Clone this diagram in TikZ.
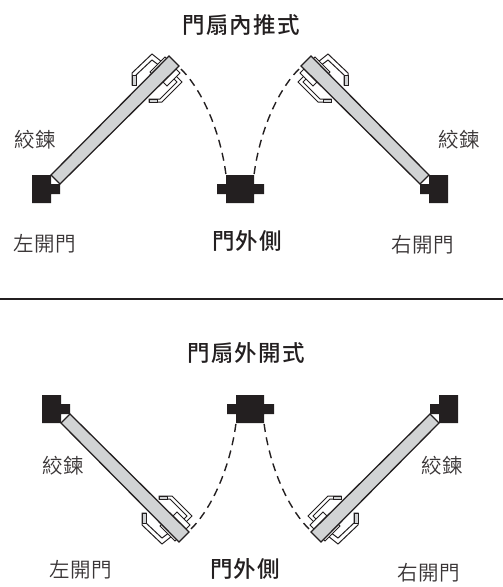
\documentclass[tikz,border=0pt]{standalone}
\usepackage{fontspec}
\setmainfont{Noto Sans CJK TC}
\newfontfamily\medcjk{Noto Sans CJK TC Medium}[LetterSpace=5]
\newfontfamily\lblcjk{Noto Sans CJK TC DemiLight}[LetterSpace=3]
\definecolor{ink}{HTML}{231F20}
\definecolor{slab}{HTML}{D1D3D4}
\tikzset{
  outline/.style={draw=ink,line width=1.3pt,line join=miter},
  jamb/.style={fill=ink,draw=none},
  leaf/.style={outline,fill=slab},
  grip/.style={draw=ink,line width=1pt,fill=white},
  swing/.style={draw=ink,line width=1.4pt,dash pattern=on 8pt off 5.5pt},
  lbl/.style={inner sep=0pt,font=\lblcjk\fontsize{20.5}{21}\selectfont,text=ink!90},
  ttl/.style={inner sep=0pt,font=\medcjk\fontsize{22.5}{23}\selectfont,text=ink},
}
\newcommand{\doorunit}{%
  % upper handle
  \path[grip] (156,67) -- (162,62) -- (152,54) -- (132,73) -- (132,85) -- (136,85) -- (136,75) -- (152,60) -- (160,66);
  \path[grip,fill=slab] (132,75) rectangle (136,85);
  % lower handle
  \path[grip] (170,79) -- (175,75) -- (182,82) -- (162,102) -- (149,102) -- (149,99) -- (160,99) -- (177,82) -- (173,78);
  \path[grip,fill=slab] (149,99) rectangle (157,102);
  % plates
  \path[grip] (150,72) -- (165,57) -- (169,61) -- (154,76) -- cycle;
  \path[grip] (163,82) -- (176,69) -- (180,73) -- (167,86) -- cycle;
  % leaf
  \path[leaf] (51,175) -- (169,56) -- (179,66) -- (60,184) -- cycle;
  % jamb
  \path[jamb] (32,175) -- (51,175) -- (51,184) -- (60,184) -- (60,194) -- (51,194) -- (51,203) -- (32,203) -- cycle;
  % swing
  \coordinate (tip) at (181,69);
  \coordinate (stop) at (226,175);
  \draw[swing] (tip) .. controls (204,92) and (221,135) .. (stop);
}
\newcommand{\midjamb}{%
  \path[jamb] (226,175) -- (254,175) -- (254,184) -- (264,184) -- (264,194) -- (254,194) -- (254,203) -- (226,203) -- (226,194) -- (217,194) -- (217,184) -- (226,184) -- cycle;
}
\begin{document}
\begin{tikzpicture}[x=1pt,y=-1pt]
\useasboundingbox (0,0) rectangle (503,587);
\begin{scope} \doorunit \midjamb \end{scope}
\begin{scope}[shift={(480,0)},xscale=-1] \doorunit \end{scope}
\begin{scope}[shift={(10,598)},yscale=-1] \doorunit \midjamb \end{scope}
\begin{scope}[shift={(490,598)},xscale=-1,yscale=-1] \doorunit \end{scope}
\coordinate (ruleL) at (0,299);
\coordinate (ruleR) at (503,299);
\draw[ink,line width=2pt] (ruleL) -- (ruleR);
\node[ttl] (t1) at (241,25) {門扇內推式};
\node[lbl] (h1) at (35,140) {絞鍊};
\node[lbl] (h2) at (459,140) {絞鍊};
\node[lbl] (l1) at (45,244) {左開門};
\node[ttl] (o1) at (247,241) {門外側};
\node[lbl] (r1) at (423,245) {右開門};
\node[ttl] (t2) at (246,353) {門扇外開式};
\node[lbl] (h3) at (63,466) {絞鍊};
\node[lbl] (h4) at (442,466) {絞鍊};
\node[lbl] (l2) at (81,570) {左開門};
\node[ttl] (o2) at (245,569) {門外側};
\node[lbl] (r2) at (429,573) {右開門};
\end{tikzpicture}
\end{document}
